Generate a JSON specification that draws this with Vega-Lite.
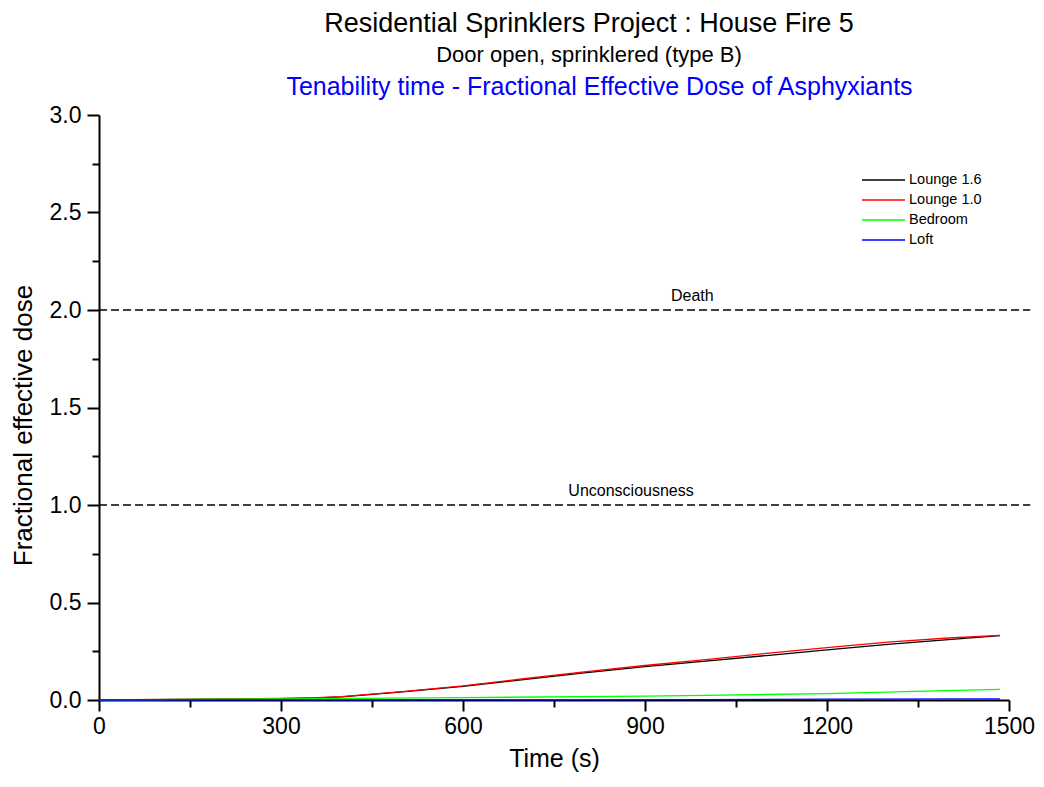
{
  "$schema": "https://vega.github.io/schema/vega-lite/v6.json",
  "autosize": {"type": "none"},
  "width": 910,
  "height": 585,
  "padding": {"left": 99, "top": 115, "right": 35, "bottom": 87},
  "background": "white",
  "config": {
    "font": "Liberation Sans",
    "view": {"stroke": null},
    "axis": {"grid": false, "domainColor": "black", "tickColor": "black", "labelColor": "black", "titleColor": "black", "labelFont": "Liberation Sans", "titleFont": "Liberation Sans", "titleFontWeight": "normal"}
  },
  "title": {
    "text": "Residential Sprinklers Project : House Fire 5",
    "subtitle": "Door open, sprinklered (type B)",
    "font": "Liberation Sans",
    "fontSize": 27,
    "fontWeight": "normal",
    "color": "black",
    "subtitleFontSize": 22,
    "subtitleColor": "black",
    "subtitleFont": "Liberation Sans",
    "subtitlePadding": 7,
    "anchor": "middle",
    "dx": 35,
    "offset": 7
  },
  "datasets": {
    "series": [
      {"series": "Lounge 1.6", "time": 0, "fed": 0},
      {"series": "Lounge 1.6", "time": 100, "fed": 0.002},
      {"series": "Lounge 1.6", "time": 200, "fed": 0.004},
      {"series": "Lounge 1.6", "time": 300, "fed": 0.007},
      {"series": "Lounge 1.6", "time": 350, "fed": 0.01},
      {"series": "Lounge 1.6", "time": 400, "fed": 0.016},
      {"series": "Lounge 1.6", "time": 450, "fed": 0.029},
      {"series": "Lounge 1.6", "time": 500, "fed": 0.042},
      {"series": "Lounge 1.6", "time": 600, "fed": 0.07},
      {"series": "Lounge 1.6", "time": 700, "fed": 0.105},
      {"series": "Lounge 1.6", "time": 800, "fed": 0.139},
      {"series": "Lounge 1.6", "time": 900, "fed": 0.171},
      {"series": "Lounge 1.6", "time": 1000, "fed": 0.199},
      {"series": "Lounge 1.6", "time": 1100, "fed": 0.228},
      {"series": "Lounge 1.6", "time": 1200, "fed": 0.257},
      {"series": "Lounge 1.6", "time": 1300, "fed": 0.285},
      {"series": "Lounge 1.6", "time": 1400, "fed": 0.31},
      {"series": "Lounge 1.6", "time": 1485, "fed": 0.33},
      {"series": "Lounge 1.0", "time": 0, "fed": 0.001},
      {"series": "Lounge 1.0", "time": 100, "fed": 0.003},
      {"series": "Lounge 1.0", "time": 200, "fed": 0.005},
      {"series": "Lounge 1.0", "time": 300, "fed": 0.008},
      {"series": "Lounge 1.0", "time": 350, "fed": 0.011},
      {"series": "Lounge 1.0", "time": 400, "fed": 0.017},
      {"series": "Lounge 1.0", "time": 450, "fed": 0.03},
      {"series": "Lounge 1.0", "time": 500, "fed": 0.043},
      {"series": "Lounge 1.0", "time": 600, "fed": 0.072},
      {"series": "Lounge 1.0", "time": 700, "fed": 0.109},
      {"series": "Lounge 1.0", "time": 800, "fed": 0.144},
      {"series": "Lounge 1.0", "time": 900, "fed": 0.177},
      {"series": "Lounge 1.0", "time": 1000, "fed": 0.207},
      {"series": "Lounge 1.0", "time": 1100, "fed": 0.239},
      {"series": "Lounge 1.0", "time": 1200, "fed": 0.269},
      {"series": "Lounge 1.0", "time": 1300, "fed": 0.297},
      {"series": "Lounge 1.0", "time": 1400, "fed": 0.318},
      {"series": "Lounge 1.0", "time": 1485, "fed": 0.331},
      {"series": "Bedroom", "time": 0, "fed": 0},
      {"series": "Bedroom", "time": 300, "fed": 0.006},
      {"series": "Bedroom", "time": 600, "fed": 0.012},
      {"series": "Bedroom", "time": 900, "fed": 0.02},
      {"series": "Bedroom", "time": 1000, "fed": 0.024},
      {"series": "Bedroom", "time": 1200, "fed": 0.033},
      {"series": "Bedroom", "time": 1345, "fed": 0.044},
      {"series": "Bedroom", "time": 1485, "fed": 0.054},
      {"series": "Loft", "time": 0, "fed": 0},
      {"series": "Loft", "time": 800, "fed": 0.001},
      {"series": "Loft", "time": 1000, "fed": 0.002},
      {"series": "Loft", "time": 1200, "fed": 0.004},
      {"series": "Loft", "time": 1485, "fed": 0.006}
    ],
    "limits": [
      {"level": 1.0, "label": "Unconsciousness", "start": 0, "end": 1535, "labelTime": 877},
      {"level": 2.0, "label": "Death", "start": 0, "end": 1535, "labelTime": 978}
    ]
  },
  "resolve": {"axis": {"x": "independent", "y": "independent"}},
  "layer": [
    {
      "data": {"name": "series"},
      "mark": {"type": "line", "strokeWidth": 1.3},
      "encoding": {
        "x": {
          "field": "time", "type": "quantitative",
          "scale": {"domain": [0, 1500], "nice": false, "zero": false},
          "axis": {"orient": "bottom", "values": [0, 300, 600, 900, 1200, 1500], "format": "d", "title": "Time (s)", "titleFontSize": 25, "labelFontSize": 23, "tickSize": 11, "tickWidth": 2, "domainWidth": 2, "labelPadding": 4, "titlePadding": 8, "labelFlush": false, "labelOverlap": false}
        },
        "y": {
          "field": "fed", "type": "quantitative",
          "scale": {"domain": [0, 3], "nice": false},
          "axis": {"orient": "left", "values": [0, 0.5, 1, 1.5, 2, 2.5, 3], "format": ".1f", "title": "Fractional effective dose", "titleFontSize": 26, "titleY": 310, "labelFontSize": 23, "tickSize": 12, "tickWidth": 2, "domainWidth": 2, "labelPadding": 6, "titlePadding": 13, "labelFlush": false, "labelOverlap": false}
        },
        "color": {
          "field": "series", "type": "nominal",
          "scale": {"domain": ["Lounge 1.6", "Lounge 1.0", "Bedroom", "Loft"], "range": ["#000000", "#ff0000", "#00ff00", "#0000ff"]},
          "legend": {"title": null, "orient": "none", "legendX": 791, "legendY": 57, "symbolType": "M-5.14,0H1", "symbolSize": 196, "symbolStrokeWidth": 1.3, "labelFontSize": 14.5, "labelFont": "Liberation Sans", "labelColor": "black", "labelOffset": 3, "rowPadding": 5, "padding": 0}
        },
        "detail": {"field": "series"}
      }
    },
    {
      "data": {"name": "limits"},
      "mark": {"type": "rule", "strokeDash": [8, 4], "strokeWidth": 1.4, "color": "black"},
      "encoding": {
        "x": {"field": "start", "type": "quantitative", "axis": {"orient": "bottom", "values": [150, 450, 750, 1050, 1350], "labels": false, "title": null, "domain": false, "tickSize": 7, "tickWidth": 2}},
        "x2": {"field": "end"},
        "y": {"field": "level", "type": "quantitative", "axis": {"orient": "left", "values": [0.25, 0.75, 1.25, 1.75, 2.25, 2.75], "labels": false, "title": null, "domain": false, "tickSize": 7, "tickWidth": 2}}
      }
    },
    {
      "data": {"name": "limits"},
      "mark": {"type": "text", "fontSize": 16, "font": "Liberation Sans", "color": "black", "dy": -14},
      "encoding": {
        "x": {"field": "labelTime", "type": "quantitative", "axis": {"orient": "top", "title": "Tenability time - Fractional Effective Dose of Asphyxiants", "titleColor": "#0000ff", "titleFontSize": 25, "titleX": 500, "titlePadding": 16, "labels": false, "ticks": false, "domain": false}},
        "y": {"field": "level", "type": "quantitative", "axis": null},
        "text": {"field": "label"}
      }
    }
  ]
}
